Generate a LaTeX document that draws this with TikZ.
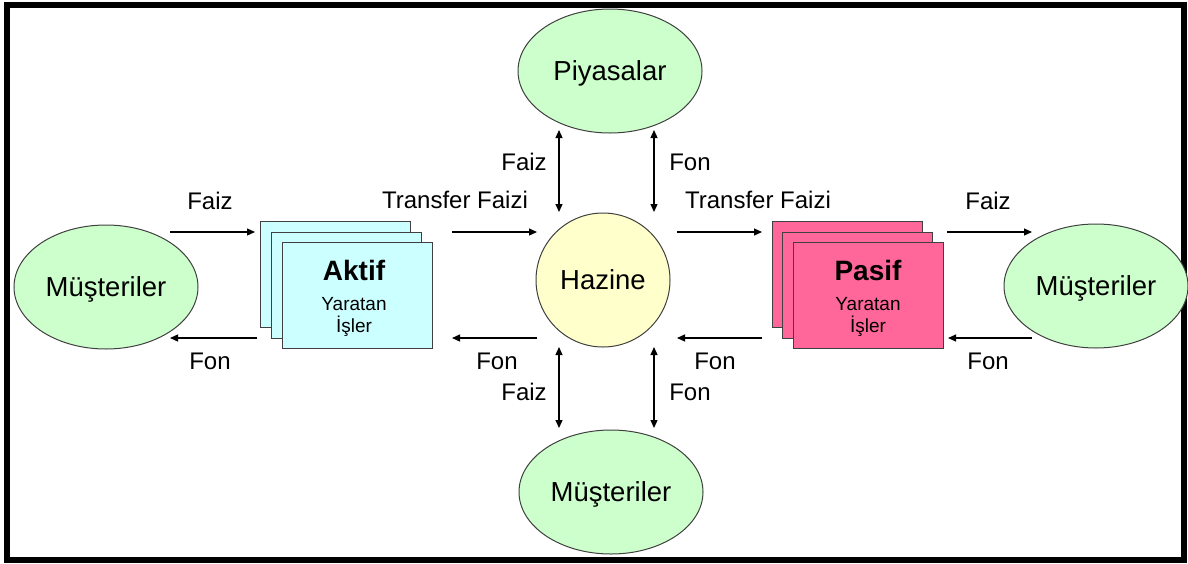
\documentclass[tikz,border=0pt]{standalone}
\usepackage{fontspec}
\setmainfont{Liberation Sans}
\usetikzlibrary{shapes.geometric,arrows.meta}
\definecolor{mint}{HTML}{CCFFCC}
\definecolor{cream}{HTML}{FFFFCC}
\definecolor{aqua}{HTML}{CCFFFF}
\definecolor{rose}{HTML}{FF6699}
\definecolor{edge}{HTML}{404040}
\begin{document}
\begin{tikzpicture}[x=1pt,y=-1pt,
  big/.style={font=\fontsize{27.5}{30}\selectfont,text height=19.8pt,text depth=0pt},
  oval/.style={ellipse,draw=edge,line width=1pt,fill=mint,minimum width=184pt,minimum height=124pt,inner sep=0pt,big},
  card/.style={draw=edge,line width=1pt,minimum width=150pt,minimum height=106pt,inner sep=0pt},
  arr/.style={-{Triangle[length=8pt,width=7pt]},line width=1.2pt},
  dbl/.style={{Triangle[length=8pt,width=7pt]}-{Triangle[length=8pt,width=7pt]},line width=1.2pt},
  lbl/.style={font=\fontsize{24}{26}\selectfont,inner sep=0pt,text height=17.3pt,text depth=0pt},
  sub/.style={font=\fontsize{19}{22}\selectfont,inner sep=0pt,text height=13.7pt,text depth=0pt},
  head/.style={font=\fontsize{28}{30}\selectfont\bfseries,inner sep=0pt,text height=20.2pt,text depth=0pt}]
\useasboundingbox (0,0) rectangle (1188,563);
% outer frame
\draw[line width=6pt] (7,5) rectangle (1184,560);

% main nodes
\node[oval] (piy) at (610,71) {Piyasalar};
\node[circle,draw=edge,line width=1pt,fill=cream,minimum size=134pt,inner sep=0pt,big] (haz) at (603,280) {Hazine};
\node[oval] (mb) at (611,492) {Müşteriler};
\node[oval] (ml) at (106,287) {Müşteriler};
\node[oval] (mr) at (1096,286) {Müşteriler};

% stacked cards: Aktif
\node[card,fill=aqua] (ak1) at (335,274.5) {};
\node[card,fill=aqua] (ak2) at (346,285) {};
\node[card,fill=aqua] (ak3) at (357,295) {};
\node[head] (akH) at (354,270) {Aktif};
\node[sub] (akY) at (354,304) {Yaratan};
\node[sub] (akI) at (354,326) {İşler};

% stacked cards: Pasif
\node[card,fill=rose] (pa1) at (847,274.5) {};
\node[card,fill=rose] (pa2) at (857,285) {};
\node[card,fill=rose] (pa3) at (868,295) {};
\node[head] (paH) at (868,270) {Pasif};
\node[sub] (paY) at (868,304) {Yaratan};
\node[sub] (paI) at (868,326) {İşler};

% arrow end points
\coordinate (l1a) at (170,232);  \coordinate (l1b) at (255,232);
\coordinate (l2a) at (257,338);  \coordinate (l2b) at (170,338);
\coordinate (c1a) at (452,232);  \coordinate (c1b) at (537,232);
\coordinate (c2a) at (537,338);  \coordinate (c2b) at (452,338);
\coordinate (d1a) at (677,232);  \coordinate (d1b) at (762,232);
\coordinate (d2a) at (762,338);  \coordinate (d2b) at (677,338);
\coordinate (r1a) at (947,232);  \coordinate (r1b) at (1032,232);
\coordinate (r2a) at (1032,338); \coordinate (r2b) at (948,338);
\coordinate (v1a) at (559,130);  \coordinate (v1b) at (559,212);
\coordinate (v2a) at (654,130);  \coordinate (v2b) at (654,212);
\coordinate (v3a) at (559,347);  \coordinate (v3b) at (559,428);
\coordinate (v4a) at (654,347);  \coordinate (v4b) at (654,428);

% connectors
\draw[arr] (l1a) -- (l1b);
\draw[arr] (l2a) -- (l2b);
\draw[arr] (c1a) -- (c1b);
\draw[arr] (c2a) -- (c2b);
\draw[arr] (d1a) -- (d1b);
\draw[arr] (d2a) -- (d2b);
\draw[arr] (r1a) -- (r1b);
\draw[arr] (r2a) -- (r2b);
\draw[dbl] (v1a) -- (v1b);
\draw[dbl] (v2a) -- (v2b);
\draw[dbl] (v3a) -- (v3b);
\draw[dbl] (v4a) -- (v4b);

% connector labels
\node[lbl] (t1) at (210,201) {Faiz};
\node[lbl] (t2) at (210,361) {Fon};
\node[lbl] (t3) at (455,200) {Transfer Faizi};
\node[lbl] (t4) at (497,361) {Fon};
\node[lbl] (t5) at (758,200) {Transfer Faizi};
\node[lbl] (t6) at (715,361) {Fon};
\node[lbl] (t7) at (988,201) {Faiz};
\node[lbl] (t8) at (988,361) {Fon};
\node[lbl] (t9) at (524,162) {Faiz};
\node[lbl] (t10) at (690,162) {Fon};
\node[lbl] (t11) at (524,392) {Faiz};
\node[lbl] (t12) at (690,392) {Fon};
\end{tikzpicture}
\end{document}
